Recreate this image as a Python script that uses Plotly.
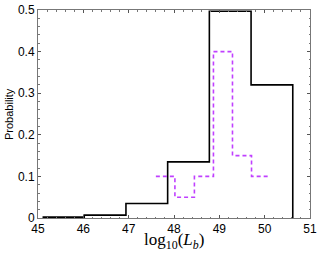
import plotly.graph_objects as go

# Black histogram (all)
black_edges = [45.1, 46.02, 46.94, 47.86, 48.78, 49.70, 50.62]
black_probs = [0.002, 0.007, 0.035, 0.135, 0.497, 0.32]

# Magenta dashed histogram
mag_edges = [47.6, 48.02, 48.45, 48.87, 49.29, 49.71, 50.12]
mag_probs = [0.10, 0.05, 0.10, 0.40, 0.15, 0.10]

x_ticks = [45, 46, 47, 48, 49, 50, 51]
y_ticks = [0, 0.1, 0.2, 0.3, 0.4, 0.5]
y_tick_text = ["0", "0.1", "0.2", "0.3", "0.4", "0.5"]

W, H = 319, 253
ML, MR, MT, MB = 38, 9, 10, 35
PW, PH = W - ML - MR, H - MT - MB

fig = go.Figure()
fig.add_trace(go.Scatter(
    x=black_edges, y=black_probs + [0],
    mode="lines", line=dict(color="black", width=1.6, shape="hv"),
    cliponaxis=False, showlegend=False))
fig.add_trace(go.Scatter(
    x=mag_edges, y=mag_probs + [mag_probs[-1]],
    mode="lines", line=dict(color="#c040ff", width=1.6, shape="hv", dash="4px,3px"),
    cliponaxis=False, showlegend=False))

axis_common = dict(
    showline=True, linecolor="#777777", linewidth=1, mirror="allticks",
    ticks="inside", ticklen=3, tickcolor="#555555", showgrid=False, zeroline=False,
    automargin=False,
    tickfont=dict(family="Liberation Sans, Arial", size=12, color="black"),
)
fig.update_xaxes(range=[45, 51], tickvals=x_ticks,
                 minor=dict(ticks="inside", dtick=0.2, ticklen=1.5, tickcolor="#777777"),
                 **axis_common)
fig.update_yaxes(range=[0, 0.5], tickvals=y_ticks, ticktext=y_tick_text,
                 minor=dict(ticks="inside", dtick=0.02, ticklen=1.5, tickcolor="#777777"),
                 **axis_common)

# axis titles as annotations for exact placement
fig.add_annotation(
    text="log<sub>10</sub>(<i>L</i><sub><i>b</i></sub>)",
    xref="paper", yref="paper", x=(174 - ML) / PW, y=-(241 - (H - MB)) / PH,
    xanchor="center", yanchor="middle", showarrow=False,
    font=dict(family="Liberation Serif, Times New Roman", size=17, color="black"))
fig.add_annotation(
    text="Probability", textangle=-90,
    xref="paper", yref="paper", x=(9 - ML) / PW, y=0.5,
    xanchor="center", yanchor="middle", showarrow=False,
    font=dict(family="Liberation Sans, Arial", size=11, color="black"))

fig.update_layout(
    width=W, height=H,
    margin=dict(l=ML, r=MR, t=MT, b=MB, autoexpand=False),
    paper_bgcolor="white", plot_bgcolor="white",
)
fig.write_html("out.html", config={"displayModeBar": False})

# remove the default body margin so the figure sits at the window's corner
with open("out.html", "r", encoding="utf-8") as f:
    html = f.read()
html = html.replace("<head>", "<head><style>html,body{margin:0;padding:0;overflow:hidden;}</style>", 1)
with open("out.html", "w", encoding="utf-8") as f:
    f.write(html)
